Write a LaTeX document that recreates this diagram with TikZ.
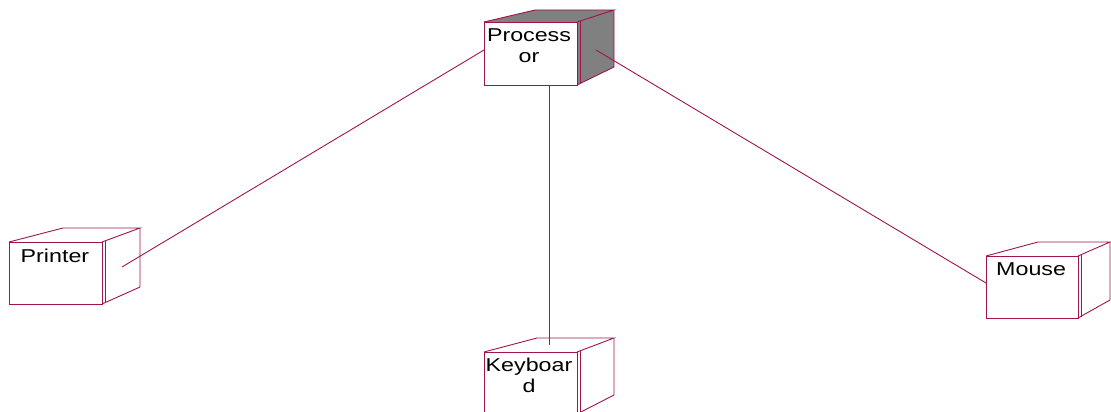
\documentclass[tikz,border=0pt]{standalone}
\usepackage{graphicx}
\usepackage{fontspec}
\setmainfont{Liberation Sans}
\definecolor{edge}{RGB}{160,20,75}
\definecolor{nodegray}{RGB}{128,128,128}
\newcommand\sx[1]{\scalebox{1.25}[1]{#1}}
\begin{document}
\begin{tikzpicture}[x=1pt,y=-1pt,
  ln/.style={draw=edge,line width=0.9pt},
  lbl/.style={anchor=base,inner sep=0pt,font=\fontsize{18.6}{21}\selectfont},
  lbll/.style={anchor=base west,inner sep=0pt,font=\fontsize{18.6}{21}\selectfont}]
\useasboundingbox (0,0) rectangle (1111,412);
% Processor
\fill[fill=nodegray] (484,22) -- (535,10) -- (614,10) -- (614,67) -- (577,85) -- (577,22) -- cycle;
\draw[ln] (484,22) rectangle (577,85);
\draw[ln] (484,22) -- (535,10) -- (614,10) -- (577,22);
\draw[ln] (614,10) -- (614,67) -- (577,85);
\draw[ln] (580,21) -- (580,84);
\node[lbl] (proc1) at (529,42) {\sx{Process}};
\node[lbl] (proc2) at (529,63) {\sx{or}};
\coordinate (procL) at (484,50);
\coordinate (procR) at (596,50);
\coordinate (procB) at (549,85);
% Printer
\draw[ln] (9,242) rectangle (102,304);
\draw[ln] (9,242) -- (63,228) -- (140,228) -- (102,242);
\draw[ln] (140,228) -- (140,287) -- (102,304);
\draw[ln] (105,241) -- (105,303);
\node[lbll] (printer) at (20.5,262) {\sx{Printer}};
\coordinate (printerC) at (122,267);
% Keyboard
\draw[ln] (484,414) -- (484,352) -- (577,352) -- (577,414);
\draw[ln] (484,352) -- (537,338) -- (614,338) -- (577,352);
\draw[ln] (614,338) -- (614,395) -- (577,414);
\draw[ln] (580,351) -- (580,414);
\node[lbl] (kb1) at (529,371) {\sx{Keyboar}};
\node[lbl] (kb2) at (529,392) {\sx{d}};
\coordinate (kbT) at (549,345);
% Mouse
\draw[ln] (986,256) rectangle (1078,318);
\draw[ln] (986,256) -- (1038,242) -- (1110,242) -- (1078,256);
\draw[ln] (1110,242) -- (1110,300) -- (1078,318);
\draw[ln] (1081,255) -- (1081,317);
\node[lbll] (mouse) at (996,275) {\sx{Mouse}};
\coordinate (mouseL) at (986,283);
% connectors
\draw[ln] (procL) -- (printerC);
\draw[ln] (procR) -- (mouseL);
\draw[ln] (procB) -- (kbT);
\end{tikzpicture}
\end{document}
